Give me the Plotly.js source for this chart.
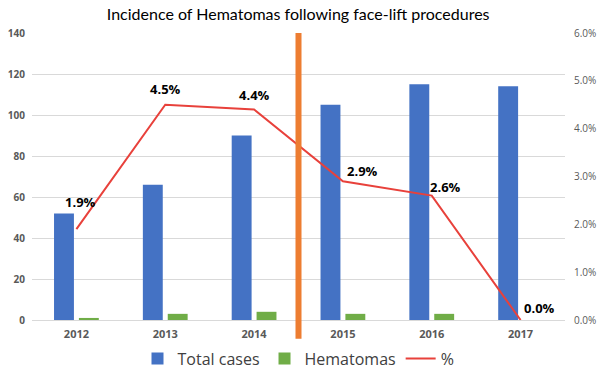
<!DOCTYPE html>
<html><head><meta charset="utf-8">
<script src="https://cdn.plot.ly/plotly-3.0.1.min.js"></script>
<style>html,body{margin:0;padding:0;background:#fff}#chart{width:600px;height:370px}</style>
</head><body><div id="chart"></div>
<script>
const years = ['2012','2013','2014','2015','2016','2017'];
const totalCases = [52, 66, 90, 105, 115, 114];
const hematomas = [1, 3, 4, 3, 3, 0];
const pct = [0.019, 0.045, 0.044, 0.029, 0.026, 0.0];
const pctLabels = ['1.9%','4.5%','4.4%','2.9%','2.6%','0.0%'];

const font = 'Open Sans, sans-serif';
const data = [
  {type:'bar', name:'Total cases', x:years, y:totalCases, marker:{color:'#4472C4'}, hoverinfo:'none'},
  {type:'bar', name:'Hematomas', x:years, y:hematomas, marker:{color:'#70AD47'}, hoverinfo:'none'},
  {type:'scatter', mode:'lines', name:'%', x:years, y:pct, yaxis:'y2',
   line:{color:'#E8413B', width:2}, cliponaxis:false, hoverinfo:'none'}
];
// label offsets (pixels) relative to each data point
const labelShift = [[4,27],[0,16],[0,15],[20,10],[14,9],[19,12]];
const annotations = years.map((yr, i) => ({
  x: i, y: pct[i], xref:'x', yref:'y2', text: pctLabels[i], showarrow:false,
  xshift: labelShift[i][0], yshift: labelShift[i][1],
  font:{family:font, size:13, color:'#000', weight:'bold'}
}));
const layout = {
  width:600, height:370,
  margin:{l:32, r:35, t:33, b:50, autoexpand:false},
  paper_bgcolor:'#fff', plot_bgcolor:'#fff',
  title:{text:'Incidence of Hematomas following face-lift procedures', x:0.497, xanchor:'center', y:0.962, yanchor:'middle',
         font:{family:'Lato, sans-serif', size:16, color:'#000'}},
  barmode:'group', bargap:0.44, bargroupgap:0.2,
  xaxis:{type:'category', categoryorder:'array', categoryarray:years, showgrid:false, showline:true, linecolor:'#D9D9D9', linewidth:1, ticks:'',
         tickfont:{family:font, size:11, color:'#595959', weight:'bold'}, zeroline:false, ticklabelstandoff:4},
  yaxis:{range:[0,140], dtick:20, showgrid:true, gridcolor:'#D9D9D9', zeroline:false, showline:false, ticks:'',
         tickfont:{family:font, size:10, color:'#595959', weight:'bold'}, ticklabelstandoff:6},
  yaxis2:{overlaying:'y', side:'right', range:[0,0.06], dtick:0.01, tickformat:'.1%', showgrid:false, zeroline:false,
          showline:false, ticks:'', tickfont:{family:font, size:10, color:'#595959'}, ticklabelstandoff:8},
  showlegend:true,
  legend:{orientation:'h', x:0.5, xanchor:'center', yref:'paper', y:-0.075, yanchor:'top', traceorder:'normal',
          font:{family:font, size:16, color:'#404040'}},
  annotations: annotations,
  shapes:[{type:'line', xref:'x', yref:'paper', x0:2.5, x1:2.5, y0:-0.065, y1:1.0, line:{color:'#ED7D31', width:6}}]
};
Plotly.newPlot('chart', data, layout, {displayModeBar:false, staticPlot:true});
</script></body></html>
